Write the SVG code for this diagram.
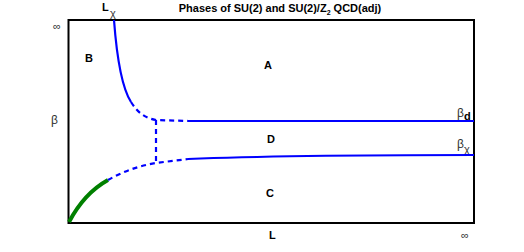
<svg xmlns="http://www.w3.org/2000/svg" width="524" height="252" viewBox="0 0 524 252">
<style>
text{font-family:"Liberation Sans",Arial,sans-serif;fill:#000}
.b{font-weight:bold;font-size:11px}
.n{font-size:11px;fill:#333}
.g{font-size:12px;fill:#333}
.blue{fill:none;stroke:#0000ff;stroke-width:2.2}
.dash{stroke-dasharray:5,4}
</style>
<rect width="524" height="252" fill="#fff"/>
<text class="b" x="280" y="12" text-anchor="middle">Phases of SU(2) and SU(2)/Z<tspan font-size="7" dy="3">2</tspan><tspan dy="-3"> QCD(adj)</tspan></text>
<g id="frame"><rect x="68.5" y="20" width="405.5" height="203" fill="none" stroke="#000" stroke-width="2"/></g>
<g id="axes">
<text class="b" x="102" y="11">L</text><text class="n" x="110" y="17" font-size="8">χ</text>
<text class="n" x="53" y="30">∞</text>
<text class="g" x="51" y="124">β</text>
<text class="b" x="269" y="239">L</text>
<text class="n" x="461" y="239">∞</text>
<text class="g" x="457" y="117">β</text><text class="b" x="464" y="120" font-size="8">d</text>
<text class="g" x="457" y="148">β</text><text class="n" x="464" y="153" font-size="8">χ</text>
</g>
<g id="A"><text class="b" x="268" y="69" text-anchor="middle">A</text></g>
<g id="B"><text class="b" x="89" y="62" text-anchor="middle">B</text></g>
<g id="D"><text class="b" x="271" y="143" text-anchor="middle">D</text></g>
<g id="C"><text class="b" x="270" y="197" text-anchor="middle">C</text></g>
<g id="connectors">
<path class="blue" d="M114,20 C117,60 122,88 131,102"/>
<path class="blue dash" d="M131,102 C138,113 145,118 156,120 L188,121"/>
<path class="blue" d="M188,121 L474,121"/>
<path class="blue dash" d="M156,120 L156,163"/>
<path fill="none" stroke="#008000" stroke-width="4" d="M69,222 C78,205 90,190 108,180"/>
<path class="blue dash" d="M108,180 C122,172 138,166 156,163 L188,159"/>
<path class="blue" d="M188,159 C260,156 360,155 474,155"/>
</g>
</svg>
